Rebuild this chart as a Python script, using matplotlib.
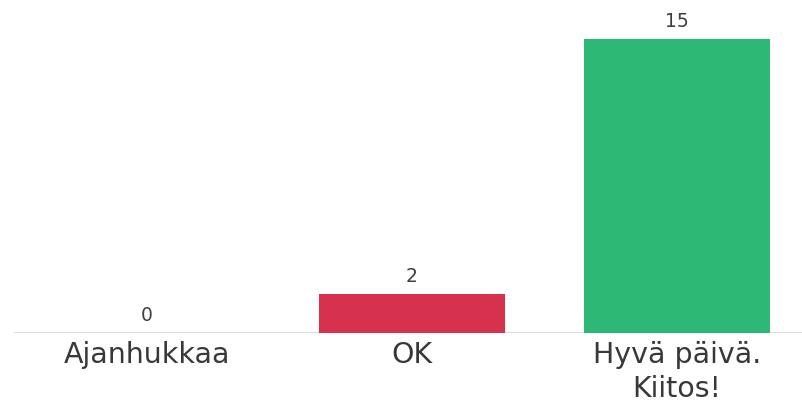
import matplotlib
matplotlib.use("Agg")
import matplotlib.pyplot as plt

categories = ["Ajanhukkaa", "OK", "Hyvä päivä.\nKiitos!"]
counts = [0, 2, 15]
colors = ["#D6324E", "#D6324E", "#2DB975"]

plt.rcParams["font.family"] = ["DejaVu Sans"]

fig = plt.figure(figsize=(8.03, 4.05), dpi=100)
ax = fig.add_axes([14.5 / 803, 72 / 405, 795 / 803, 333 / 405])

x = list(range(len(categories)))
ax.bar(x, counts, width=0.70, color=colors, zorder=2)

ax.set_xlim(-0.5, 2.5)
ax.set_ylim(0, 333 / 19.6)

for xi, v in zip(x, counts):
    ax.text(xi, v + 0.4, str(v), ha="center", va="bottom",
            fontsize=13.5, color="#3F3F3F")

ax.axhline(0, color="#DADADA", lw=1.5, zorder=1)

for s in ax.spines.values():
    s.set_visible(False)
ax.set_yticks([])
ax.set_xticks(x)
ax.set_xticklabels(categories, fontsize=20.5, color="#383838", linespacing=1.25)
ax.tick_params(axis="x", length=0, pad=6)

fig.savefig("out.png", dpi=100)
